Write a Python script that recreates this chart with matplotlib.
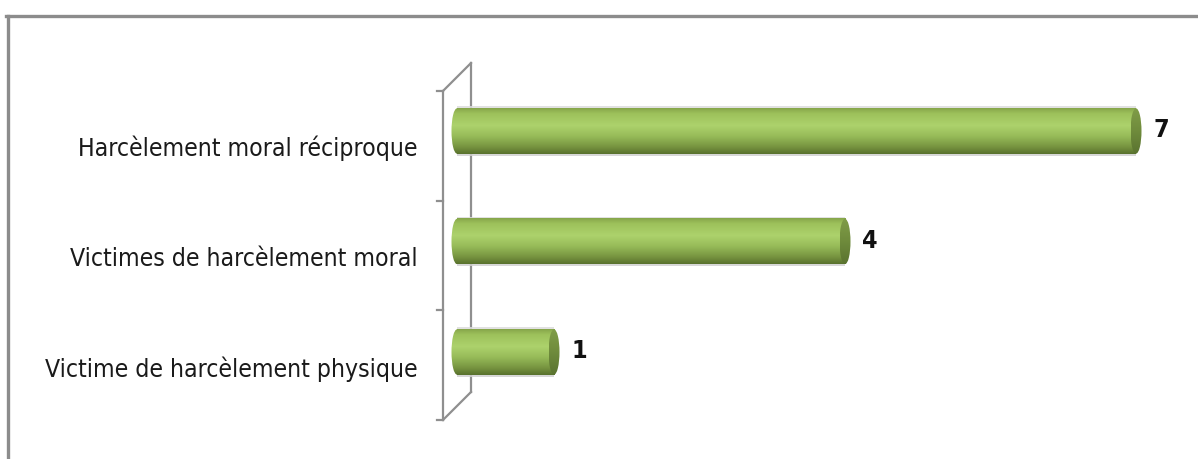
import numpy as np
import matplotlib
matplotlib.use('Agg')
import matplotlib.pyplot as plt
from matplotlib.colors import LinearSegmentedColormap
from matplotlib.patches import Ellipse
from matplotlib.lines import Line2D
from matplotlib import font_manager as fm

# ---- data ----
categories = ["Victime de harcèlement physique",
              "Victimes de harcèlement moral",
              "Harcèlement moral réciproque"]
values = [1, 4, 7]

# ---- font ----
names = {f.name for f in fm.fontManager.ttflist}
if 'Liberation Sans Narrow' in names:
    FAM = 'Liberation Sans Narrow'
    STRETCH = 'normal'
else:
    FAM = 'DejaVu Sans'
    STRETCH = 'condensed'

W, H = 1198, 459
fig = plt.figure(figsize=(W / 100, H / 100), dpi=100)
ax = fig.add_axes([0, 0, 1, 1])

PX = 97.0      # pixels per value unit
X0 = 457.0     # pixel of value 0
YPX = 110.5    # pixels per category step
Y0 = 107.0     # pixel (from bottom) of first category

body_cmap = LinearSegmentedColormap.from_list(
    'body', [(0, '#86a54a'), (0.12, '#9dc15b'), (0.38, '#add26c'),
             (0.62, '#96ba58'), (0.85, '#76933f'), (1, '#58712d')])
cap_cmap = LinearSegmentedColormap.from_list(
    'cap', [(0, '#809d48'), (0.5, '#6f8b3c'), (1, '#5a7330')])
grad = np.linspace(0, 1, 256).reshape(-1, 1)

bh = 0.41
ew = 5.5 / PX

for i, v in enumerate(values):
    top, bot = i + bh / 2, i - bh / 2
    # soft rim
    ax.plot([0, v], [top + 0.012, top + 0.012], color='#dcdcdc', lw=1.2, solid_capstyle='butt', zorder=1)
    ax.plot([0, v], [bot - 0.012, bot - 0.012], color='#cfcfcf', lw=1.2, solid_capstyle='butt', zorder=1)
    # left rounded end
    le = Ellipse((0, i), 2 * ew, bh, facecolor='none', edgecolor='none')
    ax.add_patch(le)
    im = ax.imshow(grad, cmap=body_cmap, extent=(-ew, ew, bot, top),
                   aspect='auto', origin='upper', interpolation='bilinear', zorder=2)
    im.set_clip_path(le)
    # body
    ax.imshow(grad, cmap=body_cmap, extent=(0, v, bot, top),
              aspect='auto', origin='upper', interpolation='bilinear', zorder=3)
    # right cap
    rc = Ellipse((v, i), 2 * ew, bh, facecolor='none', edgecolor='none')
    ax.add_patch(rc)
    im = ax.imshow(grad, cmap=cap_cmap, extent=(v - ew, v + ew, bot, top),
                   aspect='auto', origin='upper', interpolation='bilinear', zorder=4)
    im.set_clip_path(rc)
    # value label
    ax.text(v + 25 / PX, i + 0.005, str(v), ha='center', va='center',
            fontsize=18, fontweight='bold', family=FAM, fontstretch=STRETCH,
            color='#111111', zorder=5)

# category labels
for i, c in enumerate(categories):
    ax.text(-39 / PX, i - 0.155, c, ha='right', va='center', fontsize=17.7,
            family=FAM, fontstretch=STRETCH, color='#1a1a1a')

# ---- 3D wall (axis) ----
wc = '#8f8f8f'
fx, bx = -14 / PX, 14 / PX
dy = 0.253
n = len(categories)
f_lo = -0.5 - 0.115
f_hi = f_lo + n * (329 / 3 / YPX)
ax.plot([fx, fx], [f_lo, f_hi], color=wc, lw=1.6, zorder=0)
ax.plot([bx, bx], [f_lo + dy, f_hi + dy], color=wc, lw=1.6, zorder=0)
ax.plot([fx, bx], [f_hi, f_hi + dy], color=wc, lw=1.6, zorder=0)
ax.plot([fx, bx], [f_lo, f_lo + dy], color=wc, lw=1.6, zorder=0)
step = (f_hi - f_lo) / n
for k in range(n + 1):
    yk = f_lo + k * step
    ax.plot([fx - 6 / PX, fx], [yk, yk], color=wc, lw=1.6, zorder=0)

ax.set_xlim(-X0 / PX, (W - X0) / PX)
ax.set_ylim(-Y0 / YPX, (H - Y0) / YPX)
ax.axis('off')

# chart border (top-left visible)
bc = '#8c8c8c'
xl = 7.5 / W
yt = 1 - 15.5 / H
fig.add_artist(Line2D([xl, xl], [0, yt], transform=fig.transFigure, color=bc, lw=2.4))
fig.add_artist(Line2D([xl - 1.2 / W, 1], [yt, yt], transform=fig.transFigure, color=bc, lw=2.4))

fig.savefig('out.png', dpi=100, facecolor='white')
